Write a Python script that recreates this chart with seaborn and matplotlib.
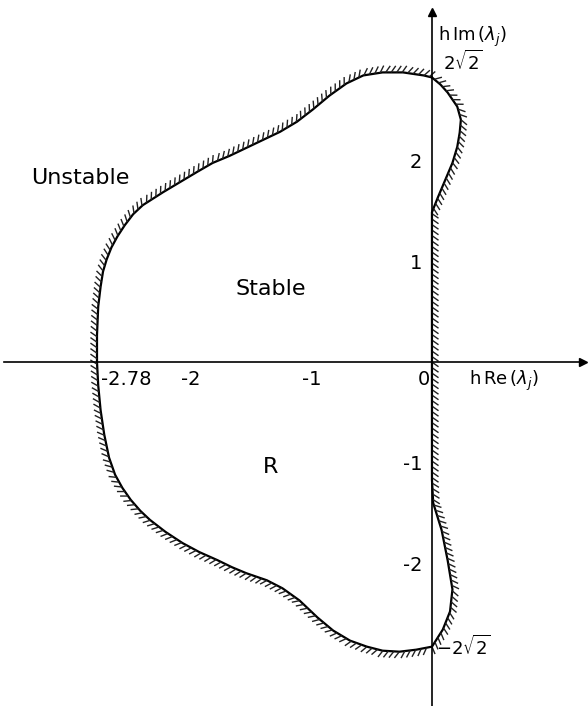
import matplotlib
matplotlib.use("Agg")
import matplotlib.pyplot as plt
from matplotlib.collections import LineCollection
import seaborn as sns
import numpy as np
import pandas as pd

# Boundary of the stability region R, traced counter-clockwise from the
# upper crossing of the imaginary axis.
boundary_re = [0.00, -0.07, -0.24, -0.41, -0.57, -0.71, -0.85, -0.99, -1.12, -1.26,
               -1.40, -1.54, -1.68, -1.82, -1.95, -2.09, -2.23, -2.40, -2.48, -2.55,
               -2.61, -2.66, -2.70, -2.73, -2.75, -2.77, -2.78, -2.78, -2.77, -2.75,
               -2.72, -2.68, -2.63, -2.57, -2.50, -2.42, -2.34, -2.21, -2.07, -1.93,
               -1.78, -1.66, -1.54, -1.37, -1.24, -1.10, -0.95, -0.82, -0.68, -0.54,
               -0.41, -0.27, -0.13, 0.00, 0.09, 0.15, 0.17, 0.13, 0.08, 0.01,
               0.00, 0.00, 0.00, 0.00, 0.05, 0.11, 0.17, 0.21, 0.23, 0.24,
               0.21, 0.13, 0.07, 0.00]
boundary_im = [2.83, 2.85, 2.88, 2.88, 2.85, 2.77, 2.65, 2.51, 2.39, 2.29,
               2.21, 2.13, 2.05, 1.98, 1.89, 1.79, 1.69, 1.56, 1.47, 1.36,
               1.25, 1.14, 1.02, 0.90, 0.75, 0.55, 0.27, 0.00, -0.23, -0.48,
               -0.72, -0.95, -1.12, -1.25, -1.37, -1.48, -1.57, -1.69, -1.80, -1.89,
               -1.97, -2.04, -2.10, -2.17, -2.25, -2.37, -2.54, -2.67, -2.77, -2.83,
               -2.87, -2.88, -2.86, -2.83, -2.66, -2.48, -2.26, -1.97, -1.67, -1.40,
               -1.17, 0.00, 1.21, 1.49, 1.64, 1.81, 1.98, 2.14, 2.28, 2.41,
               2.54, 2.68, 2.76, 2.83]

x_ticks = [-2.78, -2, -1]
x_tick_labels = ["-2.78", "-2", "-1"]
y_ticks = [-2, -1, 1, 2]
y_tick_labels = ["-2", "-1", "1", "2"]

df = pd.DataFrame({"re": boundary_re, "im": boundary_im})

sns.set_theme(style="white")
plt.rcParams["font.family"] = ["DejaVu Sans"]
plt.rcParams["text.color"] = "black"

fig = plt.figure(figsize=(5.88, 7.06), dpi=100)
ax = fig.add_axes([0, 0, 1, 1])
ax.set_xlim(-3.585, 1.295)
ax.set_ylim(-3.42, 3.60)

sns.lineplot(data=df, x="re", y="im", sort=False, estimator=None,
             color="black", linewidth=1.6, ax=ax)


def hatch_segments(xs, ys, spacing_px=5.5, length_px=8.0, angle_deg=-125.0):
    """Short slanted strokes on the outer (right-hand) side of a CCW curve."""
    pts = ax.transData.transform(np.column_stack([xs, ys]))
    seg = np.diff(pts, axis=0)
    seg_len = np.hypot(seg[:, 0], seg[:, 1])
    cum = np.concatenate([[0.0], np.cumsum(seg_len)])
    s_vals = np.arange(spacing_px / 2, cum[-1], spacing_px)
    idx = np.clip(np.searchsorted(cum, s_vals, side="right") - 1, 0, len(seg) - 1)
    safe = np.where(seg_len[idx] > 0, seg_len[idx], 1)
    base = pts[idx] + seg[idx] * ((s_vals - cum[idx]) / safe)[:, None]
    tang = seg[idx] / safe[:, None]
    a = np.deg2rad(angle_deg)
    rot = np.array([[np.cos(a), -np.sin(a)], [np.sin(a), np.cos(a)]])
    tip = base + (tang @ rot.T) * length_px
    inv = ax.transData.inverted()
    return np.stack([inv.transform(base), inv.transform(tip)], axis=1)


ax.add_collection(LineCollection(hatch_segments(boundary_re, boundary_im),
                                 colors="#222222", linewidths=1.0))

# Axes drawn through the origin
for side in ("top", "right"):
    ax.spines[side].set_visible(False)
ax.spines["left"].set_position(("data", 0))
ax.spines["bottom"].set_position(("data", 0))
ax.spines["bottom"].set_bounds(-3.55, 1.25)
ax.spines["left"].set_bounds(-3.45, 3.48)
for side in ("left", "bottom"):
    ax.spines[side].set_color("black")
    ax.spines[side].set_linewidth(1.2)
ax.plot([1.25], [0], marker=">", color="black", markersize=6, clip_on=False)
ax.plot([0], [3.48], marker="^", color="black", markersize=6, clip_on=False)

ax.set_xticks(x_ticks)
ax.set_xticklabels([])
ax.set_yticks(y_ticks)
ax.set_yticklabels(y_tick_labels, fontsize=14)
ax.tick_params(axis="x", direction="in", length=5, width=1, color="black")
ax.tick_params(axis="y", direction="out", length=5, width=1, color="black",
               pad=2, labelcolor="black")
ax.set_xlabel("")
ax.set_ylabel("")

for xv, lab in zip(x_ticks, x_tick_labels):
    if xv == -2.78:
        ax.text(xv + 0.03, -0.08, lab, fontsize=14, ha="left", va="top")
    else:
        ax.text(xv, -0.08, lab, fontsize=14, ha="center", va="top")
ax.text(-0.02, -0.08, "0", fontsize=14, ha="right", va="top")

ax.text(0.31, -0.19, r"$\mathrm{h\,Re}\,(\lambda_j)$", fontsize=13, ha="left", va="center")
ax.text(0.05, 3.23, r"$\mathrm{h\,Im}\,(\lambda_j)$", fontsize=13, ha="left", va="center")
ax.text(0.09, 2.98, r"$2\sqrt{2}$", fontsize=13, ha="left", va="center")
ax.text(0.03, -2.83, r"$-2\sqrt{2}$", fontsize=13, ha="left", va="center")

ax.text(-2.92, 1.83, "Unstable", fontsize=16, ha="center", va="center")
ax.text(-1.34, 0.73, "Stable", fontsize=16, ha="center", va="center")
ax.text(-1.34, -1.04, "R", fontsize=16, ha="center", va="center")

fig.savefig("out.png", dpi=100)
